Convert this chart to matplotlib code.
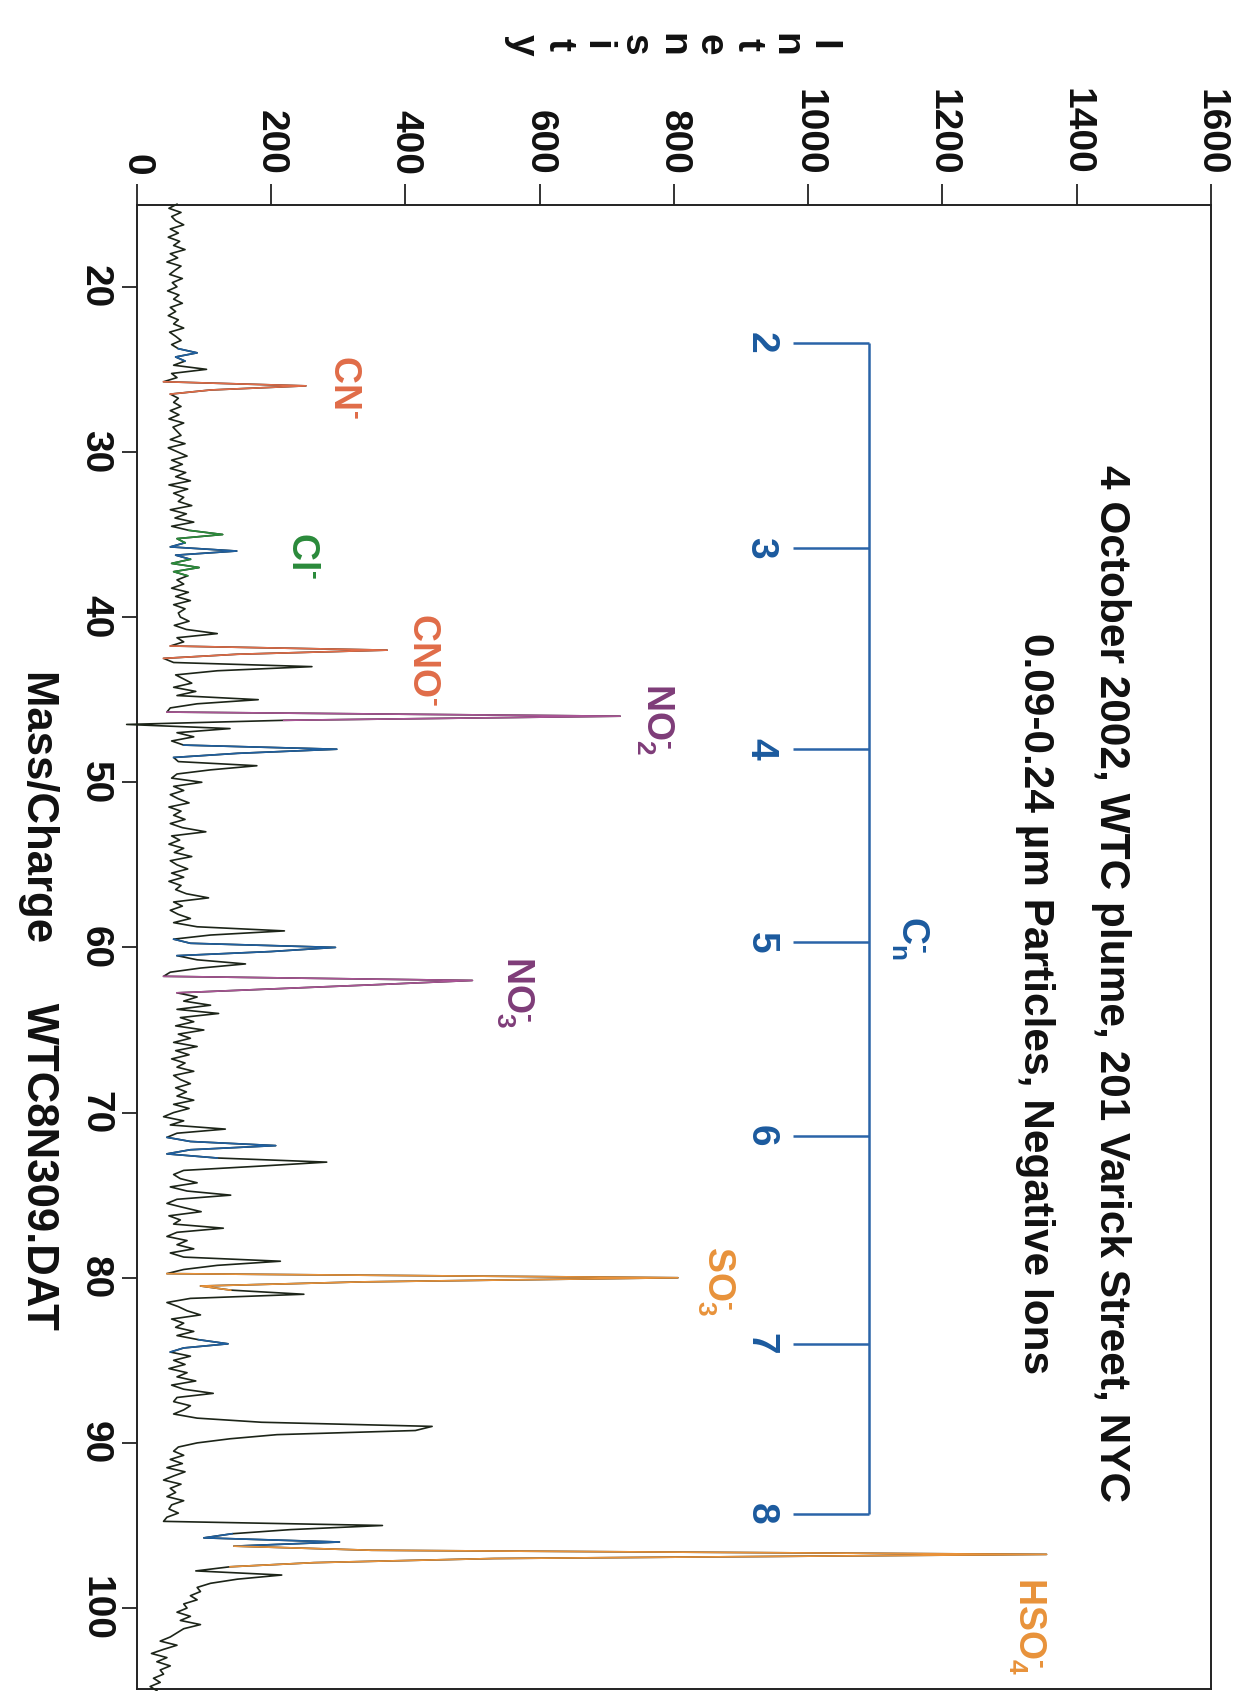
import numpy as np
import matplotlib
matplotlib.use("Agg")
import matplotlib.pyplot as plt

plt.rcParams['font.family'] = ['Liberation Sans', 'DejaVu Sans']
plt.rcParams['font.weight'] = 'bold'
plt.rcParams['mathtext.fontset'] = 'custom'
plt.rcParams['mathtext.rm'] = 'Liberation Sans:bold'
plt.rcParams['mathtext.it'] = 'Liberation Sans:bold'
plt.rcParams['mathtext.bf'] = 'Liberation Sans:bold'
plt.rcParams['mathtext.default'] = 'rm'

# ---------------- data ----------------
mass_start, mass_step = 15.0, 0.25
# intensity sampled every 0.25 amu, one row per integer mass (m, m+.25, m+.5, m+.75)
intensity = [
    60, 48, 66, 52,      # 15
    58, 70, 50, 62,      # 16
    47, 64, 55, 72,      # 17
    50, 61, 45, 66,      # 18
    57, 49, 68, 53,      # 19
    60, 46, 63, 55,      # 20
    68, 50, 58, 47,      # 21
    62, 55, 70, 49,      # 22
    58, 66, 52, 62,      # 23
    90, 58, 72, 55,      # 24
    104, 52, 60, 40,     # 25
    252, 110, 50, 62,    # 26
    55, 66, 50, 63,      # 27
    48, 70, 54, 60,      # 28
    66, 50, 72, 47,      # 29
    61, 75, 52, 68,      # 30
    50, 73, 58, 80,      # 31
    48, 76, 55, 70,      # 32
    62, 82, 50, 74,      # 33
    57, 85, 52, 78,      # 34
    128, 60, 72, 50,     # 35
    149, 58, 80, 52,     # 36
    93, 55, 76, 60,      # 37
    70, 52, 77, 58,      # 38
    80, 55, 72, 62,      # 39
    65, 78, 56, 74,      # 40
    120, 60, 70, 50,     # 41
    373, 150, 40, 55,    # 42
    261, 120, 58, 70,    # 43
    82, 55, 88, 60,      # 44
    181, 90, 50, 45,     # 45
    720, 219, -15, 139,  # 46
    60, 85, 52, 70,      # 47
    298, 150, 55, 62,    # 48
    179, 110, 60, 52,    # 49
    97, 55, 70, 50,      # 50
    62, 78, 48, 66,      # 51
    55, 72, 50, 68,      # 52
    103, 52, 64, 48,     # 53
    70, 56, 82, 50,      # 54
    60, 76, 52, 70,      # 55
    48, 66, 58, 74,      # 56
    107, 55, 68, 50,     # 57
    62, 80, 55, 90,      # 58
    220, 110, 55, 80,    # 59
    296, 200, 60, 90,    # 60
    162, 95, 50, 40,     # 61
    500, 360, 209, 60,   # 62
    90, 70, 110, 60,     # 63
    122, 65, 85, 58,     # 64
    100, 62, 80, 55,     # 65
    90, 58, 78, 52,      # 66
    72, 60, 85, 55,      # 67
    65, 80, 58, 74,      # 68
    60, 85, 55, 78,      # 69
    55, 40, 70, 50,      # 70
    132, 60, 45, 80,     # 71
    207, 80, 45, 120,    # 72
    283, 180, 70, 55,    # 73
    65, 90, 50, 75,      # 74
    140, 60, 45, 70,     # 75
    96, 48, 65, 55,      # 76
    129, 60, 45, 75,     # 77
    60, 85, 50, 70,      # 78
    214, 120, 70, 45,    # 79
    806, 336, 95, 140,   # 80
    249, 80, 45, 62,     # 81
    75, 95, 52, 70,      # 82
    58, 85, 60, 92,      # 83
    136, 70, 50, 80,     # 84
    55, 72, 48, 75,      # 85
    60, 88, 52, 70,      # 86
    114, 60, 55, 80,     # 87
    70, 55, 90, 186,     # 88
    440, 415, 209, 139,  # 89
    90, 62, 55, 70,      # 90
    50, 68, 45, 72,      # 91
    55, 40, 66, 50,      # 92
    58, 45, 70, 52,      # 93
    48, 62, 45, 40,      # 94
    366, 229, 142, 100,  # 95
    302, 145, 350, 1355, # 96
    532, 264, 139, 88,   # 97
    216, 150, 110, 90,   # 98
    95, 80, 90, 70,      # 99
    75, 60, 80, 65,      # 100
    95, 70, 60, 50,      # 101
    35, 60, 40, 22,      # 102
    45, 30, 50, 35,      # 103
    40, 25, 35, 20,      # 104
    30,                  # 105
]

# coloured ion segments: (mass from, mass to, colour key)
segments_start = [23.75, 35.5, 47.75, 59.5, 71.5, 83.75, 95.5,
                  34.75, 36.5,
                  25.75, 41.75,
                  45.75, 61.75,
                  79.75, 96.25]
segments_end = [24.5, 36.5, 48.5, 60.5, 72.75, 84.5, 96.25,
                35.5, 37.5,
                26.5, 42.5,
                46.25, 62.75,
                80.75, 97.5]
segments_key = ['C', 'C', 'C', 'C', 'C', 'C', 'C',
                'Cl', 'Cl',
                'CN', 'CN',
                'NO', 'NO',
                'S', 'S']

# carbon cluster ladder C_n^-
ladder_n = ['2', '3', '4', '5', '6', '7', '8']
ladder_mass = [23.4, 35.8, 48.0, 59.7, 71.4, 84.0, 94.3]

# ion labels
ion_text = ['CN$^{\u2010}$', 'Cl$^{\u2010}$', 'CNO$^{\u2010}$', 'NO$_2^{\u2010}$',
            'NO$_3^{\u2010}$', 'SO$_3^{\u2010}$', 'HSO$_4^{\u2010}$', 'C$_n^{\u2010}$']
ion_x = [309, 246, 426, 771, 563, 862, 1326, 1151]
ion_m = [26.05, 36.3, 42.6, 46.2, 62.7, 80.2, 101.1, 59.4]
ion_key = ['CN', 'Cl', 'CN', 'NO_t', 'NO_t', 'S', 'S', 'C_t']

x_ticks = [0, 200, 400, 600, 800, 1000, 1200, 1400, 1600]
m_ticks = [20, 30, 40, 50, 60, 70, 80, 90, 100]

title = '4 October 2002, WTC plume, 201 Varick Street, NYC'
subtitle = '0.09-0.24 \u00b5m Particles, Negative Ions'

# ---------------- style ----------------
colors = {'C': '#1f5f9f', 'Cl': '#2a8a3a', 'CN': '#e06c48', 'NO': '#a85494',
          'S': '#e8923a', 'NO_t': '#7e3c78', 'C_t': '#1b5a9e'}
black = '#1c2418'

W, H = 1241, 1691
fig = plt.figure(figsize=(W / 100, H / 100), dpi=100)
ax = fig.add_axes([136.7 / W, 1 - 1689 / H, (1211 - 136.7) / W, (1689 - 205) / H])

inten = np.array(intensity, dtype=float)
mass = mass_start + mass_step * np.arange(len(inten))

ax.plot(inten, mass, color=black, lw=1.2, clip_on=False, zorder=3)
for a, b, k in zip(segments_start, segments_end, segments_key):
    sel = (mass >= a - 1e-9) & (mass <= b + 1e-9)
    ax.plot(inten[sel], mass[sel], color=colors[k], lw=1.2, zorder=4)

# ladder
lad_col = '#2a64a8'
ax.vlines(1091, ladder_mass[0], ladder_mass[-1], color=lad_col, lw=1.8)
ax.hlines(ladder_mass, 977, 1091, color=lad_col, lw=1.8)
for n, m in zip(ladder_n, ladder_mass):
    ax.text(929, m, n, rotation=-90, ha='center', va='center', fontsize=28,
            color=colors['C_t'], fontweight='bold')

for t, x, m, k in zip(ion_text, ion_x, ion_m, ion_key):
    ax.text(x, m, t, rotation=-90, ha='center', va='center', fontsize=27,
            color=colors[k], fontweight='bold')

ax.text(1451, 62.2, title, rotation=-90, ha='center', va='center', fontsize=30.5,
        color='#111111', fontweight='bold')
ax.text(1338, 63.4, subtitle, rotation=-90, ha='center', va='center', fontsize=30.5,
        color='#111111', fontweight='bold')

ax.set_xlim(0, 1600)
ax.set_ylim(104.9, 15.05)
ax.xaxis.tick_top()
ax.set_xticks(x_ticks)
ax.set_xticklabels([str(v) for v in x_ticks])
ax.set_yticks(m_ticks)
ax.set_yticklabels([str(v) for v in m_ticks])
ax.tick_params(axis='x', direction='out', length=15, width=1.2, pad=6.5,
               labelsize=28, labelrotation=-90, colors='#111111')
ax.tick_params(axis='y', direction='out', length=11, width=1.2, pad=6,
               labelsize=28, labelrotation=-90, colors='#111111')
for lab in ax.get_yticklabels():
    lab.set_va('center')
for s in ax.spines.values():
    s.set_linewidth(1.4)
    s.set_color('#222222')

fig.text(672 / W, 1 - 45 / H, 'I\nn\nt\ne\nn\ns\ni\nt\ny', rotation=-90,
         ha='center', va='center', fontsize=28, fontweight='bold',
         linespacing=1.06, color='#111111', multialignment='center')
fig.text(38 / W, 1 - 1000 / H, 'Mass/Charge     WTC8N309.DAT', rotation=-90,
         ha='center', va='center', fontsize=31.5, fontweight='bold', color='#111111')

fig.savefig('out.png', dpi=100)
